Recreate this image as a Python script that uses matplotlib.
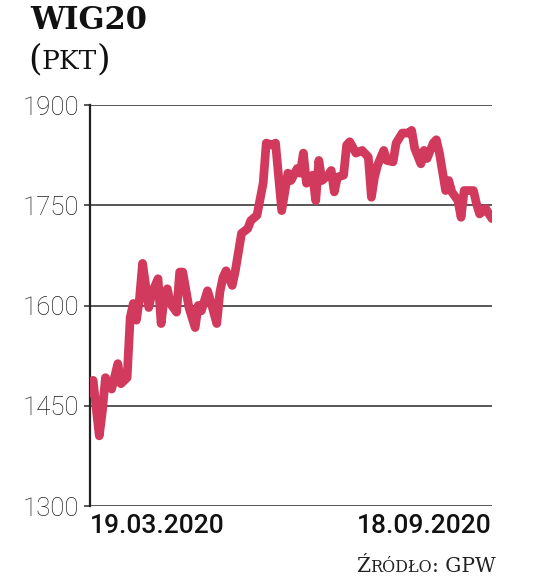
import matplotlib.pyplot as plt

# trading-day offsets from 19.03.2020 and WIG20 close (pkt)
days = [0, 1, 3, 4, 5, 7, 9, 10, 12, 13, 14, 15, 16, 17, 19, 20, 22, 23, 24, 25,
        26, 28, 29, 30, 32, 34, 35, 36, 38, 39, 41, 42, 43, 44, 46, 47, 49, 51, 52, 54,
        56, 57, 59, 60, 62, 64, 65, 67, 68, 69, 70, 72, 73, 74, 75, 77, 78, 79, 80, 82,
        83, 84, 86, 88, 90, 91, 92, 93, 95, 96, 98, 99, 101, 103, 104, 105, 107, 108, 109, 111,
        112, 113, 115, 116, 117, 119, 120, 121, 123, 124, 125, 126, 128, 129, 130]
values = [1470, 1488, 1405, 1442, 1492, 1475, 1513, 1483, 1492, 1582, 1603, 1578, 1610, 1663, 1597, 1618, 1640, 1573, 1612, 1625,
          1603, 1590, 1650, 1650, 1597, 1567, 1600, 1592, 1622, 1607, 1573, 1620, 1642, 1652, 1630, 1652, 1708, 1715, 1727, 1735,
          1783, 1843, 1840, 1843, 1742, 1798, 1787, 1805, 1798, 1828, 1783, 1795, 1757, 1817, 1787, 1795, 1802, 1770, 1792, 1795,
          1840, 1845, 1828, 1832, 1822, 1762, 1792, 1810, 1832, 1817, 1815, 1843, 1858, 1858, 1862, 1835, 1812, 1832, 1820, 1843,
          1848, 1828, 1772, 1787, 1770, 1757, 1732, 1772, 1772, 1772, 1752, 1737, 1745, 1737, 1730]

y_ticks = [1300, 1450, 1600, 1750, 1900]
date_labels = ["19.03.2020", "18.09.2020"]
title = "WIG20"
unit = "PKT"

fig = plt.figure(figsize=(5.36, 5.80), dpi=100)
ax = fig.add_axes([90 / 536, 1 - 506 / 580, 402 / 536, 401 / 580])

for t in y_ticks:
    ax.axhline(t, color="#3a3a3a", lw=1.2, zorder=1)

ax.plot(days, values, color="#d13a5c", lw=6.3, solid_joinstyle="round",
        solid_capstyle="round", zorder=3)

ax.set_xlim(days[0], days[-1])
ax.set_ylim(1300, 1900)
ax.set_yticks(y_ticks)
ax.set_yticklabels([str(t) for t in y_ticks], fontsize=18.5, family="Roboto",
                   fontweight="light", color="#1e1e1e")
ax.tick_params(axis="y", length=4, width=1.2, color="#3a3a3a", pad=4)
ax.set_xticks([])
for s in ["top", "right", "bottom"]:
    ax.spines[s].set_visible(False)
ax.spines["left"].set_linewidth(1.6)
ax.spines["left"].set_color("#222222")

ax.text(0, -0.02, date_labels[0], transform=ax.transAxes, ha="left", va="top",
        fontsize=19, family="Roboto", fontweight="medium", color="#111111")
ax.text(1, -0.02, date_labels[1], transform=ax.transAxes, ha="right", va="top",
        fontsize=19, family="Roboto", fontweight="medium", color="#111111")

fig.text(30 / 536, 1 - 29 / 580, title, fontsize=22, fontweight="bold",
         family="DejaVu Serif", color="#111111", va="baseline")


def chain(parts, x0, y0, color):
    # put text pieces one after another on a shared baseline
    x = x0
    for txt, size in parts:
        t = fig.text(x, y0, txt, fontsize=size, family="DejaVu Serif", color=color,
                     va="baseline")
        fig.canvas.draw()
        bb = t.get_window_extent()
        x = fig.transFigure.inverted().transform((bb.x1, 0))[0]


chain([("(", 25), (unit, 19), (")", 25)], 28 / 536, 1 - 69 / 580, "#111111")
chain([("Ź", 14.5), ("RÓDŁO", 11.5), (": GPW", 14.5)], 356 / 536, 1 - 572 / 580, "#222222")

fig.savefig("out.png", dpi=100)
